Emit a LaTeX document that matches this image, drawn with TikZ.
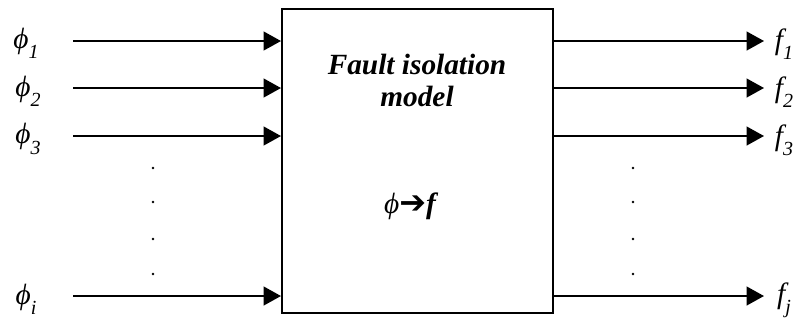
\documentclass[tikz,border=0pt]{standalone}
\usepackage{fontspec}
\setmainfont{Liberation Serif}
\newfontfamily\symfont{DejaVu Sans}
\usetikzlibrary{arrows.meta}
\tikzset{
  px/.style={x=0.75pt,y=-0.75pt},
  flow/.style={line width=1.5pt,-{Triangle[length=13pt,width=14pt]}},
  lbl/.style={font=\fontsize{22}{24}\selectfont\itshape,inner sep=0pt},
  dotmark/.style={circle,fill=black,inner sep=0pt,minimum size=2.2pt},
  title/.style={font=\fontsize{22}{24}\selectfont\bfseries\itshape,align=center,inner sep=0pt}
}
\newcommand{\sub}[1]{\raisebox{-0.35em}{\fontsize{15}{15}\selectfont\itshape #1}}
\begin{document}
\begin{tikzpicture}[px]
\useasboundingbox (0,0) rectangle (803,322);
\node[draw,line width=1.5pt,minimum width=271*0.75pt,minimum height=304*0.75pt,inner sep=0pt] (box) at (417.5,161) {};
\node[title] (t1) at (417,80) {Fault isolation\\model};
\node[title] (t2) at (410,206) {{\mdseries ϕ}{\symfont\bfseries\fontsize{24}{24}\selectfont ➔}f};
% inputs
\coordinate (i1) at (73,41);
\coordinate (i2) at (73,88);
\coordinate (i3) at (73,136);
\coordinate (ii) at (73,296);
\coordinate (o1) at (764,41);
\coordinate (o2) at (764,88);
\coordinate (o3) at (764,136);
\coordinate (oj) at (764,296);
\foreach \n in {i1,i2,i3,ii}{\draw[flow] (\n) -- (\n -| box.west);}
\foreach \n in {o1,o2,o3,oj}{\draw[flow] (\n -| box.east) -- (\n);}
\node[lbl] (p1) at (26,43) {ϕ\sub{1}};
\node[lbl] (p2) at (28,91) {ϕ\sub{2}};
\node[lbl] (p3) at (28,139) {ϕ\sub{3}};
\node[lbl] (pi) at (26,299) {ϕ\sub{i}};
\node[lbl] (f1) at (784,44) {f\sub{1}};
\node[lbl] (f2) at (784,92) {f\sub{2}};
\node[lbl] (f3) at (784,140) {f\sub{3}};
\node[lbl] (fj) at (784,300) {f\sub{j}};
\foreach \y [count=\k] in {168,202,239,274}{
  \node[dotmark] (dl\k) at (153,\y) {};
  \node[dotmark] (dr\k) at (633,\y) {};
}
\end{tikzpicture}
\end{document}
